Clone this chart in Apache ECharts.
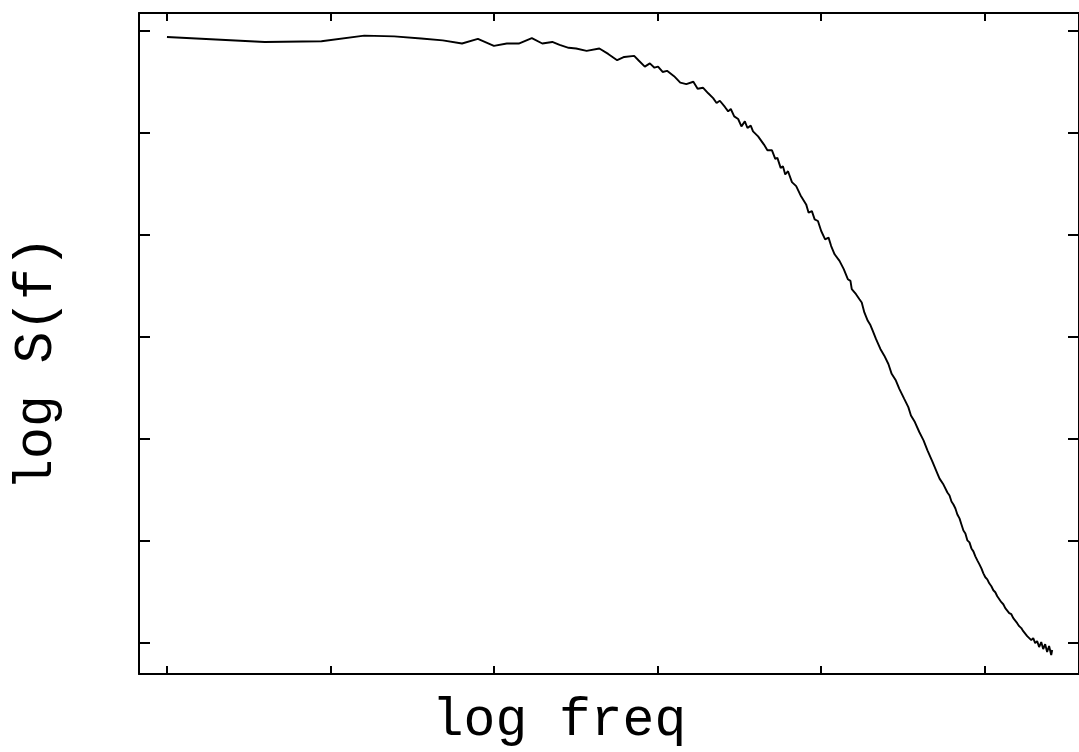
<!DOCTYPE html>
<html>
<head>
<meta charset="utf-8">
<script src="https://cdn.jsdelivr.net/npm/echarts@6/dist/echarts.min.js"></script>
<style>
html,body{margin:0;padding:0;background:#fff;}
#chart{width:1079px;height:752px;}
</style>
</head>
<body>
<div id="chart"></div>
<script>
// log frequency (axis units: tick marks at 0..5)
const logFreq = [
0.000,0.598,0.945,1.207,1.390,1.555,1.687,1.805,1.902,2.000,
2.079,2.152,2.232,2.296,2.357,2.402,2.457,2.503,2.567,2.645,
2.699,2.754,2.797,2.858,2.884,2.923,2.954,2.982,3.004,3.032,
3.059,3.102,3.140,3.177,3.220,3.246,3.280,3.311,3.341,3.362,
3.382,3.413,3.433,3.449,3.470,3.494,3.514,3.535,3.551,3.571,
3.585,3.616,3.626,3.652,3.673,3.701,3.721,3.734,3.754,3.768,
3.782,3.799,3.823,3.849,3.876,3.910,3.925,3.945,3.962,3.982,
4.002,4.026,4.047,4.063,4.084,4.114,4.140,4.165,4.181,4.189,
4.215,4.236,4.250,4.266,4.287,4.303,4.317,4.337,4.364,4.388,
4.413,4.433,4.459,4.480,4.510,4.535,4.551,4.575,4.602,4.628,
4.652,4.683,
4.713,4.726,4.738,4.750,4.762,4.774,4.787,4.799,4.811,4.823,
4.835,4.848,4.860,4.872,4.884,4.896,4.909,4.921,4.933,4.945,
4.957,4.970,4.982,4.994,5.006,5.018,5.030,5.043,5.055,5.067,
5.079,5.091,5.104,5.116,5.128,5.140,5.152,5.165,5.177,5.189,
5.201,5.213,5.226,5.238,5.250,5.262,5.274,5.287,5.299,5.311,
5.323,5.335,5.348,5.360,5.372,5.384,5.396,5.409,5.415
];
// log S(f) (axis units: tick marks at 0..6)
const logS = [
5.941,5.892,5.899,5.954,5.947,5.926,5.908,5.877,5.922,5.854,
5.877,5.877,5.930,5.877,5.892,5.863,5.835,5.828,5.805,5.828,
5.775,5.713,5.745,5.756,5.713,5.650,5.682,5.640,5.650,5.598,
5.609,5.557,5.493,5.479,5.502,5.433,5.443,5.389,5.342,5.294,
5.316,5.255,5.212,5.235,5.163,5.137,5.065,5.114,5.049,5.072,
5.016,4.967,4.984,4.886,4.830,4.830,4.746,4.756,4.658,4.674,
4.593,4.625,4.518,4.479,4.388,4.300,4.219,4.234,4.153,4.137,
4.039,3.958,3.974,3.892,3.811,3.746,3.665,3.567,3.550,3.469,
3.420,3.371,3.339,3.241,3.159,3.117,3.062,2.981,2.883,2.817,
2.736,2.639,2.573,2.492,2.394,2.313,2.231,2.166,2.069,1.987,
1.889,1.776,
1.661,1.612,1.622,1.554,1.544,1.476,1.446,1.388,1.358,1.319,
1.261,1.222,1.163,1.104,1.075,1.007,0.987,0.928,0.899,0.850,
0.811,0.772,0.733,0.684,0.645,0.625,0.586,0.557,0.518,0.498,
0.459,0.440,0.401,0.381,0.342,0.332,0.293,0.283,0.244,0.225,
0.195,0.166,0.147,0.117,0.107,0.068,0.078,0.029,0.049,0.000,
0.020,-0.039,0.010,-0.059,-0.010,-0.088,-0.029,-0.117,-0.068
];
const xTicks = [0, 1, 2, 3, 4, 5];
const yTicks = [0, 1, 2, 3, 4, 5, 6];
const xLabel = 'log freq';
const yLabel = 'log S(f)';

const X_MIN = -0.171, X_MAX = 5.579;
const Y_MIN = -0.303, Y_MAX = 6.176;

const points = logFreq.map((x, i) => [x, logS[i]]);
const FONT = '"Liberation Mono", "DejaVu Sans Mono", monospace';
const lineSt = { color: '#000', width: 2 };

function xAx(pos, withName) {
  return {
    type: 'value', position: pos, min: X_MIN, max: X_MAX,
    axisLine: { show: true, onZero: false, lineStyle: lineSt },
    axisTick: { show: true, inside: true, length: 8, customValues: xTicks, lineStyle: lineSt },
    axisLabel: { show: false, customValues: xTicks },
    splitLine: { show: false },
    name: withName ? xLabel : '',
    nameLocation: 'middle', nameGap: 20,
    nameTextStyle: { fontFamily: FONT, fontSize: 53, color: '#000', padding: [0, 100, 0, 0] }
  };
}
function yAx(pos, withName) {
  return {
    type: 'value', position: pos, min: Y_MIN, max: Y_MAX,
    axisLine: { show: true, onZero: false, lineStyle: lineSt },
    axisTick: { show: true, inside: true, length: 11, customValues: yTicks, lineStyle: lineSt },
    axisLabel: { show: false, customValues: yTicks },
    splitLine: { show: false },
    name: withName ? yLabel : '',
    nameLocation: 'middle', nameGap: 76, nameRotate: 90,
    nameTextStyle: { fontFamily: FONT, fontSize: 53, color: '#000', padding: [0, 40, 0, 0] }
  };
}

const chart = echarts.init(document.getElementById('chart'), null, { renderer: 'canvas' });
chart.setOption({
  animation: false,
  backgroundColor: '#fff',
  grid: { left: 139, top: 13, right: -3, bottom: 76, containLabel: false },
  xAxis: [xAx('bottom', true), xAx('top', false)],
  yAxis: [yAx('left', true), yAx('right', false)],
  series: [{
    type: 'line', xAxisIndex: 0, yAxisIndex: 0,
    data: points, showSymbol: false, symbol: 'none',
    lineStyle: { color: '#000', width: 1.9 }
  }]
});
</script>
</body>
</html>
